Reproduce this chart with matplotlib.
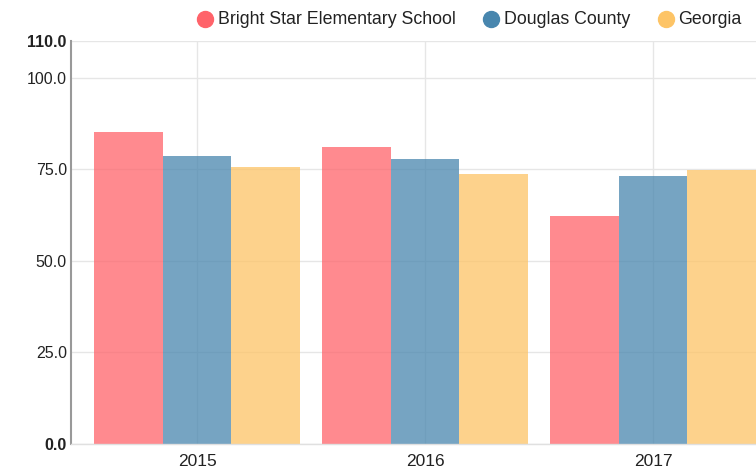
import matplotlib.pyplot as plt
import numpy as np
from matplotlib.lines import Line2D

years = ["2015", "2016", "2017"]
series = ["Bright Star Elementary School", "Douglas County", "Georgia"]
school = [85.1, 81.0, 62.2]
county = [78.5, 77.8, 73.2]
state = [75.6, 73.7, 74.9]
colors = ["#FF636A", "#4886AE", "#FDC466"]
y_ticks = [0, 25, 50, 75, 100, 110]

plt.rcParams['font.family'] = ['Liberation Sans', 'DejaVu Sans']

W, H = 756, 474
fig = plt.figure(figsize=(W / 100, H / 100), dpi=100)
ax = fig.add_axes([71 / W, 30 / H, (W - 71) / W, (444 - 41) / H])

x = np.arange(len(years))
w = 0.3
for i, vals in enumerate([school, county, state]):
    ax.bar(x + (i - 1) * w, vals, width=w, color=colors[i], alpha=0.75,
           zorder=2, linewidth=0)

ax.set_xlim(-0.553, 2.452)
ax.set_ylim(0, 110)
ax.set_yticks(y_ticks)
ax.set_yticklabels([f"{v:.1f}" for v in y_ticks])
# min and max ticks are drawn bold
ax.get_yticklabels()[0].set_fontweight('bold')
ax.get_yticklabels()[-1].set_fontweight('bold')
ax.set_xticks(x)
ax.set_xticklabels(years)
ax.set_axisbelow(True)
ax.grid(True, color='#E6E6E6', lw=1)
ax.tick_params(axis='y', length=0, labelsize=11.5, labelcolor='#222', pad=3)
ax.tick_params(axis='x', length=0, labelsize=12.5, labelcolor='#222', pad=7)

for s in ['top', 'right']:
    ax.spines[s].set_visible(False)
ax.spines['left'].set_color('#999999')
ax.spines['left'].set_linewidth(1.5)
ax.spines['bottom'].set_color('#E0E0E0')
ax.spines['bottom'].set_linewidth(1)

# legend along the top, laid out item by item
fig.canvas.draw()
rend = fig.canvas.get_renderer()
lx = 197
ly = 18.5
for name, c in zip(series, colors):
    fig.add_artist(Line2D([(lx + 8.5) / W], [1 - ly / H], marker='o', ms=11.5,
                          color=c, linestyle='none', transform=fig.transFigure))
    t = fig.text((lx + 21) / W, 1 - (ly + 1.5) / H, name, va='center', ha='left',
                 fontsize=12.8, color='#222')
    bb = t.get_window_extent(renderer=rend)
    lx = bb.x1 + 27

fig.savefig('out.png', dpi=100)
